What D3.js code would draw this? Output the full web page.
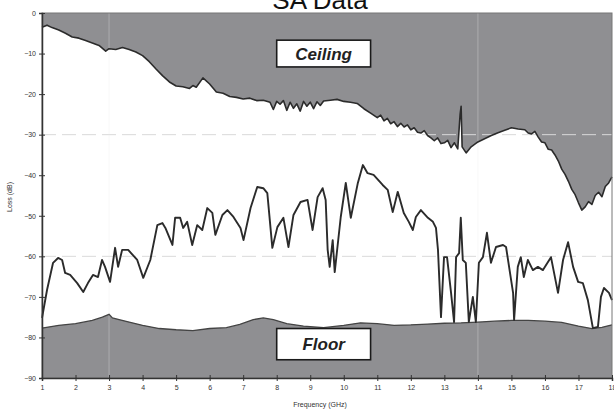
<!DOCTYPE html>
<html><head><meta charset="utf-8">
<script src="https://cdn.jsdelivr.net/npm/d3@7"></script>
<style>html,body{margin:0;padding:0;background:#fff;}svg{display:block;}</style>
</head><body>
<script>
const title = "SA Data";
const xTicks = d3.range(1, 19);
const yTicks = [0, -10, -20, -30, -40, -50, -60, -70, -80, -90];

const ceilFreq = [1.0,1.15,1.3,1.5,1.7,1.9,2.1,2.3,2.5,2.7,2.9,3.0,3.2,3.4,3.6,3.8,4.0,4.2,4.4,4.6,4.8,5.0,5.2,5.4,5.5,5.6,5.8,6.0,6.2,6.4,6.6,6.8,7.0,7.2,7.4,7.6,7.8,7.9,8.0,8.1,8.2,8.3,8.4,8.5,8.6,8.7,8.8,8.9,9.0,9.1,9.2,9.3,9.4,9.6,9.8,10.0,10.2,10.4,10.6,10.8,11.0,11.1,11.2,11.3,11.4,11.5,11.6,11.7,11.8,11.9,12.0,12.1,12.2,12.3,12.4,12.5,12.6,12.7,12.8,12.9,13.0,13.1,13.2,13.3,13.4,13.47,13.5,13.53,13.65,13.8,14.0,14.2,14.4,14.6,14.8,15.0,15.2,15.4,15.5,15.6,15.7,15.8,15.9,16.0,16.1,16.2,16.3,16.4,16.5,16.6,16.7,16.8,16.9,17.0,17.1,17.2,17.3,17.4,17.5,17.6,17.7,17.8,17.9,18.0];
const ceilLoss = [-3.5,-3.0,-3.6,-4.2,-5.0,-5.9,-6.2,-6.8,-7.4,-8.0,-9.4,-8.8,-9.0,-8.5,-9.0,-9.6,-10.5,-12.0,-13.8,-15.5,-17.0,-18.0,-18.2,-18.6,-17.9,-18.3,-16.0,-17.5,-19.5,-19.8,-20.6,-20.8,-21.2,-21.0,-21.6,-21.5,-22.0,-23.8,-21.8,-22.5,-21.6,-24.0,-22.0,-23.5,-22.4,-24.2,-21.8,-23.0,-22.0,-23.6,-21.9,-22.8,-21.7,-21.5,-21.3,-21.8,-22.0,-22.3,-23.6,-24.7,-25.8,-25.2,-26.6,-26.0,-27.3,-26.8,-28.0,-27.2,-28.1,-27.6,-28.8,-28.3,-29.4,-29.6,-29.0,-30.2,-30.8,-31.5,-30.8,-32.2,-32.0,-31.4,-33.2,-32.0,-33.5,-25.0,-23.0,-33.0,-34.5,-33.0,-31.8,-31.0,-30.2,-29.5,-28.9,-28.3,-28.6,-28.8,-29.6,-29.8,-29.2,-30.6,-31.8,-32.0,-33.6,-33.8,-35.0,-36.5,-38.5,-39.8,-41.5,-43.5,-44.8,-46.8,-48.6,-47.8,-46.5,-47.2,-45.0,-44.2,-45.3,-42.8,-41.9,-40.4];

const floorFreq = [1.0,1.5,2.0,2.5,2.8,3.0,3.1,3.3,3.6,4.0,4.5,5.0,5.5,6.0,6.5,6.9,7.3,7.6,7.9,8.3,8.8,9.4,10.0,10.5,11.0,11.5,12.0,12.5,13.0,13.5,14.0,14.5,15.0,15.5,16.0,16.5,17.0,17.4,17.7,18.0];
const floorLoss = [-77.7,-77.0,-76.6,-75.8,-75.0,-74.3,-75.2,-75.6,-76.2,-77.0,-77.8,-78.1,-78.3,-77.8,-77.6,-76.8,-75.6,-75.2,-75.6,-76.6,-77.2,-77.6,-77.0,-76.4,-76.6,-77.0,-76.9,-76.7,-76.5,-76.4,-76.2,-76.0,-75.8,-75.8,-76.0,-76.3,-77.2,-77.8,-77.5,-76.9];

const sigFreq = [1.00,1.15,1.33,1.48,1.60,1.69,1.84,2.05,2.23,2.37,2.52,2.67,2.79,2.88,3.03,3.18,3.27,3.39,3.57,3.84,4.02,4.23,4.44,4.59,4.68,4.89,4.97,5.12,5.21,5.33,5.48,5.63,5.78,5.93,6.08,6.17,6.38,6.53,6.71,6.92,7.01,7.22,7.42,7.60,7.72,7.87,8.02,8.20,8.35,8.50,8.71,8.92,9.07,9.22,9.37,9.46,9.52,9.58,9.67,9.73,9.91,10.06,10.21,10.42,10.57,10.71,10.89,11.16,11.31,11.46,11.61,11.79,11.94,12.06,12.15,12.30,12.51,12.66,12.75,12.81,12.90,12.99,13.08,13.20,13.29,13.35,13.44,13.49,13.55,13.64,13.73,13.85,13.94,14.03,14.15,14.27,14.39,14.54,14.75,14.84,15.05,15.08,15.19,15.28,15.37,15.49,15.64,15.79,15.94,16.18,16.39,16.54,16.69,16.84,16.99,17.13,17.28,17.43,17.58,17.67,17.76,17.91,18.00];
const sigLoss = [-75.2,-68.3,-61.6,-60.4,-60.9,-64.1,-64.6,-66.6,-68.8,-66.6,-64.6,-65.1,-60.9,-62.6,-66.3,-57.9,-62.6,-58.4,-58.4,-60.9,-65.3,-60.9,-52.3,-51.8,-53.0,-57.2,-50.5,-50.5,-53.0,-51.5,-57.2,-52.3,-53.5,-48.1,-49.3,-54.7,-49.8,-48.6,-50.3,-53.0,-56.0,-48.1,-42.9,-43.2,-44.4,-57.9,-52.8,-50.5,-57.7,-49.8,-46.6,-46.1,-53.5,-45.4,-43.2,-46.1,-58.4,-62.6,-56.0,-63.9,-50.3,-41.9,-50.5,-41.9,-37.5,-39.5,-39.9,-42.4,-43.6,-49.1,-44.1,-49.3,-51.5,-53.5,-50.3,-48.6,-50.5,-51.5,-53.0,-58.4,-75.0,-60.2,-60.2,-69.0,-76.2,-60.2,-59.2,-50.5,-60.9,-61.6,-76.2,-70.0,-76.2,-61.6,-60.2,-54.2,-61.6,-57.7,-57.2,-57.7,-69.0,-75.7,-62.6,-60.2,-65.1,-60.9,-63.4,-62.6,-63.4,-60.2,-69.0,-60.9,-56.5,-62.6,-66.3,-66.6,-70.8,-77.7,-77.4,-70.0,-67.8,-69.0,-70.8];

const labelNames = ["Ceiling", "Floor"];
const labelFreq = [[8.0, 10.8], [8.0, 10.8]];
const labelLoss = [[-6.7, -13.3], [-77.8, -85.5]];

const W = 614, H = 410;
const M = {left: 42, right: 2, top: 13, bottom: 32};
const svg = d3.select("body").append("svg").attr("width", W).attr("height", H);
const x = d3.scaleLinear().domain([1, 18]).range([M.left, W - M.right]);
const y = d3.scaleLinear().domain([0, -90]).range([M.top, H - M.bottom]);
const grey = "#8f8f92";
const ink = "#2b2b2b";

const ceil = ceilFreq.map((f, i) => [f, ceilLoss[i]]);
const floor = floorFreq.map((f, i) => [f, floorLoss[i]]);
const sig = sigFreq.map((f, i) => [f, sigLoss[i]]);

svg.append("path").datum(ceil)
  .attr("d", d3.area().x(d => x(d[0])).y0(y(0)).y1(d => y(d[1])))
  .attr("fill", grey);
svg.append("path").datum(floor)
  .attr("d", d3.area().x(d => x(d[0])).y0(y(-90)).y1(d => y(d[1])))
  .attr("fill", grey);

const g = svg.append("g");
[-30, -60].forEach(v => g.append("line")
  .attr("x1", x(1)).attr("x2", x(18)).attr("y1", y(v)).attr("y2", y(v))
  .attr("stroke", "#dadada").attr("stroke-width", 1).attr("stroke-dasharray", "14,6"));
[3, 14].forEach(v => g.append("line")
  .attr("x1", x(v)).attr("x2", x(v)).attr("y1", y(0)).attr("y2", y(-90))
  .attr("stroke", "#e6e6e6").attr("stroke-opacity", 0.22).attr("stroke-width", 1.5));

const line = d3.line().x(d => x(d[0])).y(d => y(d[1]));
svg.append("path").datum(ceil).attr("d", line).attr("fill", "none").attr("stroke", ink).attr("stroke-width", 1.6).attr("stroke-linejoin", "round");
svg.append("path").datum(floor).attr("d", line).attr("fill", "none").attr("stroke", "#444").attr("stroke-width", 1.3);
svg.append("path").datum(sig).attr("d", line).attr("fill", "none").attr("stroke", ink).attr("stroke-width", 1.9).attr("stroke-linejoin", "round");

svg.append("rect").attr("x", x(1)).attr("y", y(0)).attr("width", x(18) - x(1)).attr("height", y(-90) - y(0))
  .attr("fill", "none").attr("stroke", "#777").attr("stroke-width", 1);

labelNames.forEach((n, i) => {
  const x0 = x(labelFreq[i][0]), x1 = x(labelFreq[i][1]);
  const y0 = y(labelLoss[i][0]), y1 = y(labelLoss[i][1]);
  svg.append("rect").attr("x", x0).attr("y", y0).attr("width", x1 - x0).attr("height", y1 - y0)
    .attr("fill", "#fff").attr("stroke", "#1a1a1a").attr("stroke-width", 1.6);
  svg.append("text").attr("x", (x0 + x1) / 2).attr("y", (y0 + y1) / 2 + 6)
    .attr("text-anchor", "middle").attr("font-family", "Liberation Sans, Arial, sans-serif")
    .attr("font-size", 17).attr("font-weight", "bold").attr("font-style", "italic").attr("fill", "#222").text(n);
});

const xAxis = d3.axisBottom(x).tickValues(xTicks).tickSize(3).tickFormat(d3.format("d"));
const xa = svg.append("g").attr("transform", `translate(0,${y(-90)})`).call(xAxis);
xa.select(".domain").attr("stroke", "#333").attr("stroke-width", 1.5);
xa.selectAll(".tick line").attr("stroke", "#333").attr("y1", -3);
xa.selectAll(".tick text").attr("font-size", 7).attr("fill", "#333").attr("dy", "0.9em")
  .attr("font-family", "Liberation Sans, Arial, sans-serif");
const yAxis = d3.axisLeft(y).tickValues(yTicks).tickSize(3).tickFormat(d3.format("d"));
const ya = svg.append("g").attr("transform", `translate(${x(1)},0)`).call(yAxis);
ya.select(".domain").attr("stroke", "#333").attr("stroke-width", 1.5);
ya.selectAll(".tick line").attr("stroke", "#333").attr("x1", 3);
ya.selectAll(".tick text").attr("font-size", 7).attr("fill", "#333").attr("x", -6)
  .attr("font-family", "Liberation Sans, Arial, sans-serif");

svg.append("text").attr("x", 320).attr("y", 407).attr("text-anchor", "middle")
  .attr("font-family", "Liberation Sans, Arial, sans-serif").attr("font-size", 7).attr("fill", "#333")
  .text("Frequency (GHz)");
svg.append("text").attr("transform", "translate(12,197) rotate(-90)").attr("text-anchor", "middle")
  .attr("font-family", "Liberation Sans, Arial, sans-serif").attr("font-size", 7).attr("fill", "#333")
  .text("Loss (dB)");
svg.append("text").attr("x", 320).attr("y", 9).attr("text-anchor", "middle")
  .attr("font-family", "Liberation Sans, Arial, sans-serif").attr("font-size", 26).attr("fill", "#111")
  .text(title);
</script>
</body></html>
